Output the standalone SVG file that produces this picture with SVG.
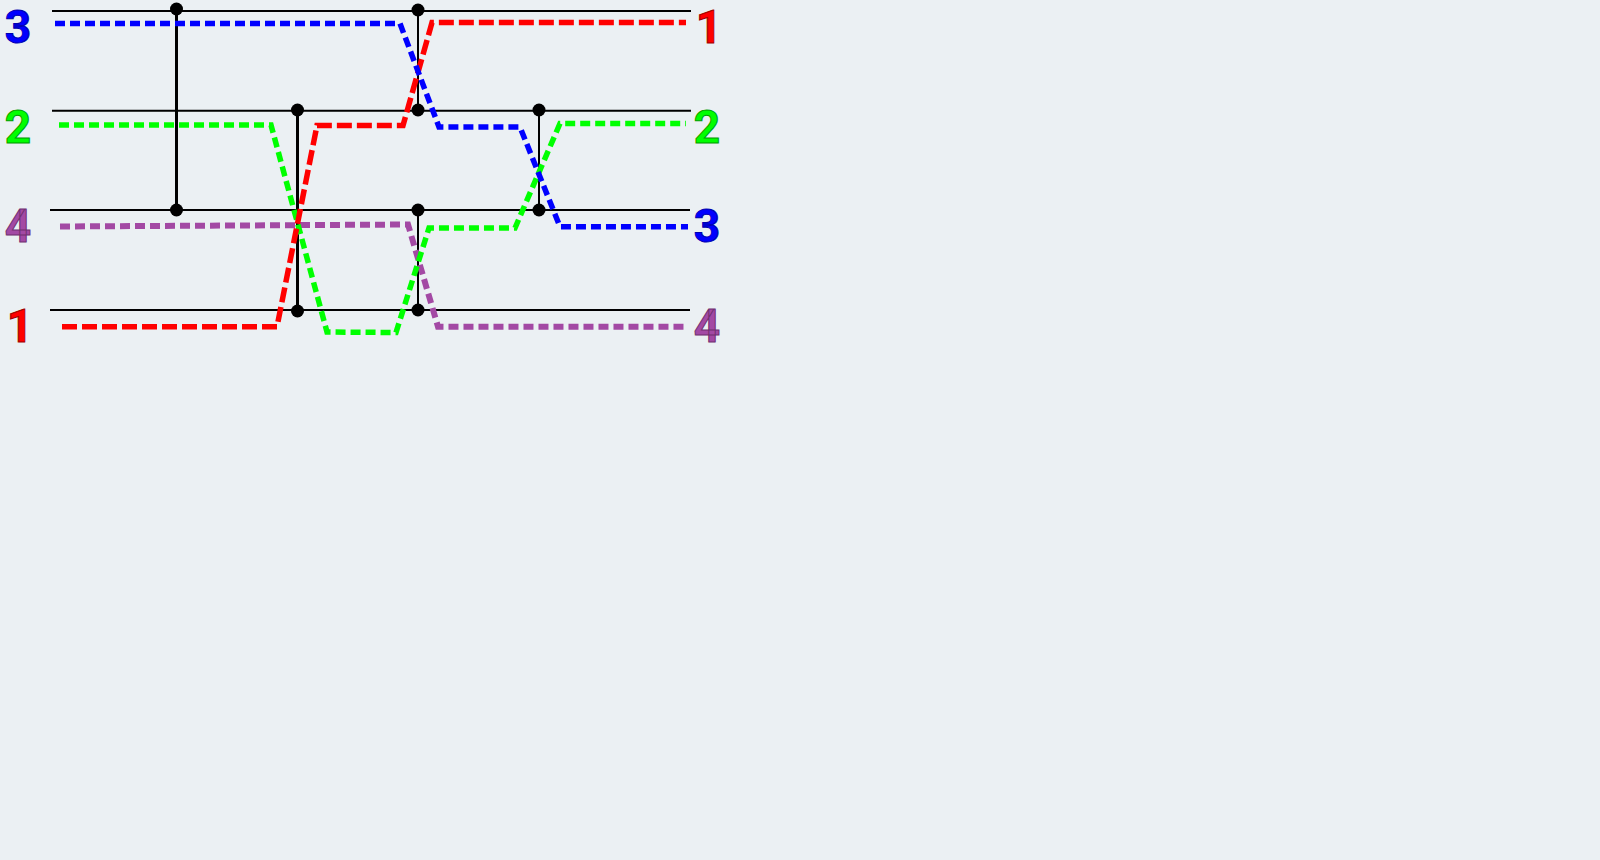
<svg xmlns="http://www.w3.org/2000/svg" width="1600" height="860" viewBox="0 0 1600 860">
<style>
.wire{stroke:#000;stroke-width:2;fill:none}
.link{stroke:#000;fill:none}
.dot{fill:#000}
.q{fill:none;stroke-width:5.500;stroke-linejoin:miter}
.s{stroke-dasharray:10 5}
.l{stroke-dasharray:15 5}
text{font-family:Roboto,"Liberation Sans",sans-serif;font-weight:bold;font-size:46px;text-anchor:middle;stroke-width:1}
.blue{fill:#0000ff;stroke:#0000b0}
.green{fill:#00ff00;stroke:#00a000}
.red{fill:#ff0000;stroke:#a00000}
.purple{fill:#a349a4;stroke:#703070}
</style>
<rect id="background" width="1600" height="860" fill="#ebf0f3"/>
<g id="connectors">
<path class="wire" d="M52 11H691M52 110.700H691M50 210H690M50 310H690"/>
<path class="link" stroke-width="3" d="M176.500 9V210M297.500 110V310"/>
<path class="link" stroke-width="2" d="M418 10V110M418 210V310M539 110V210"/>
<path class="q s" stroke="#a349a4" style="stroke-width:6" d="M60 226.500L408 224.500L438 326.700H685"/>
<path class="q s" stroke="#00ff00" d="M59 125H271L327 332L396 332.500L429 228H515L560 123.500H686"/>
<path class="q l" stroke="#ff0000" d="M62 326.700H277L317 125.500H403L432 22.500H686"/>
<path class="q s" stroke="#0000ff" d="M55 23.500H400L439 127H520L560 226.700H688"/>
</g>
<g id="node-a1"><circle class="dot" cx="176.500" cy="9" r="6.500"/></g>
<g id="node-a2"><circle class="dot" cx="176.500" cy="210" r="6.500"/></g>
<g id="node-b1"><circle class="dot" cx="297.500" cy="110" r="6.500"/></g>
<g id="node-b2"><circle class="dot" cx="297.500" cy="311" r="6.500"/></g>
<g id="node-c1"><circle class="dot" cx="418" cy="10" r="6.500"/></g>
<g id="node-c2"><circle class="dot" cx="418" cy="110" r="6.500"/></g>
<g id="node-d1"><circle class="dot" cx="418" cy="210" r="6.500"/></g>
<g id="node-d2"><circle class="dot" cx="418" cy="310" r="6.500"/></g>
<g id="node-e1"><circle class="dot" cx="539" cy="110" r="6.500"/></g>
<g id="node-e2"><circle class="dot" cx="539" cy="210" r="6.500"/></g>
<g id="labels-left">
<text class="blue" x="18" y="43">3</text>
<text class="green" x="18" y="143">2</text>
<text class="purple" x="18" y="242">4</text>
<text class="red" x="20" y="342">1</text>
</g>
<g id="labels-right">
<text class="red" x="709" y="43">1</text>
<text class="green" x="707" y="143">2</text>
<text class="blue" x="707" y="242">3</text>
<text class="purple" x="707" y="342">4</text>
</g>
</svg>
